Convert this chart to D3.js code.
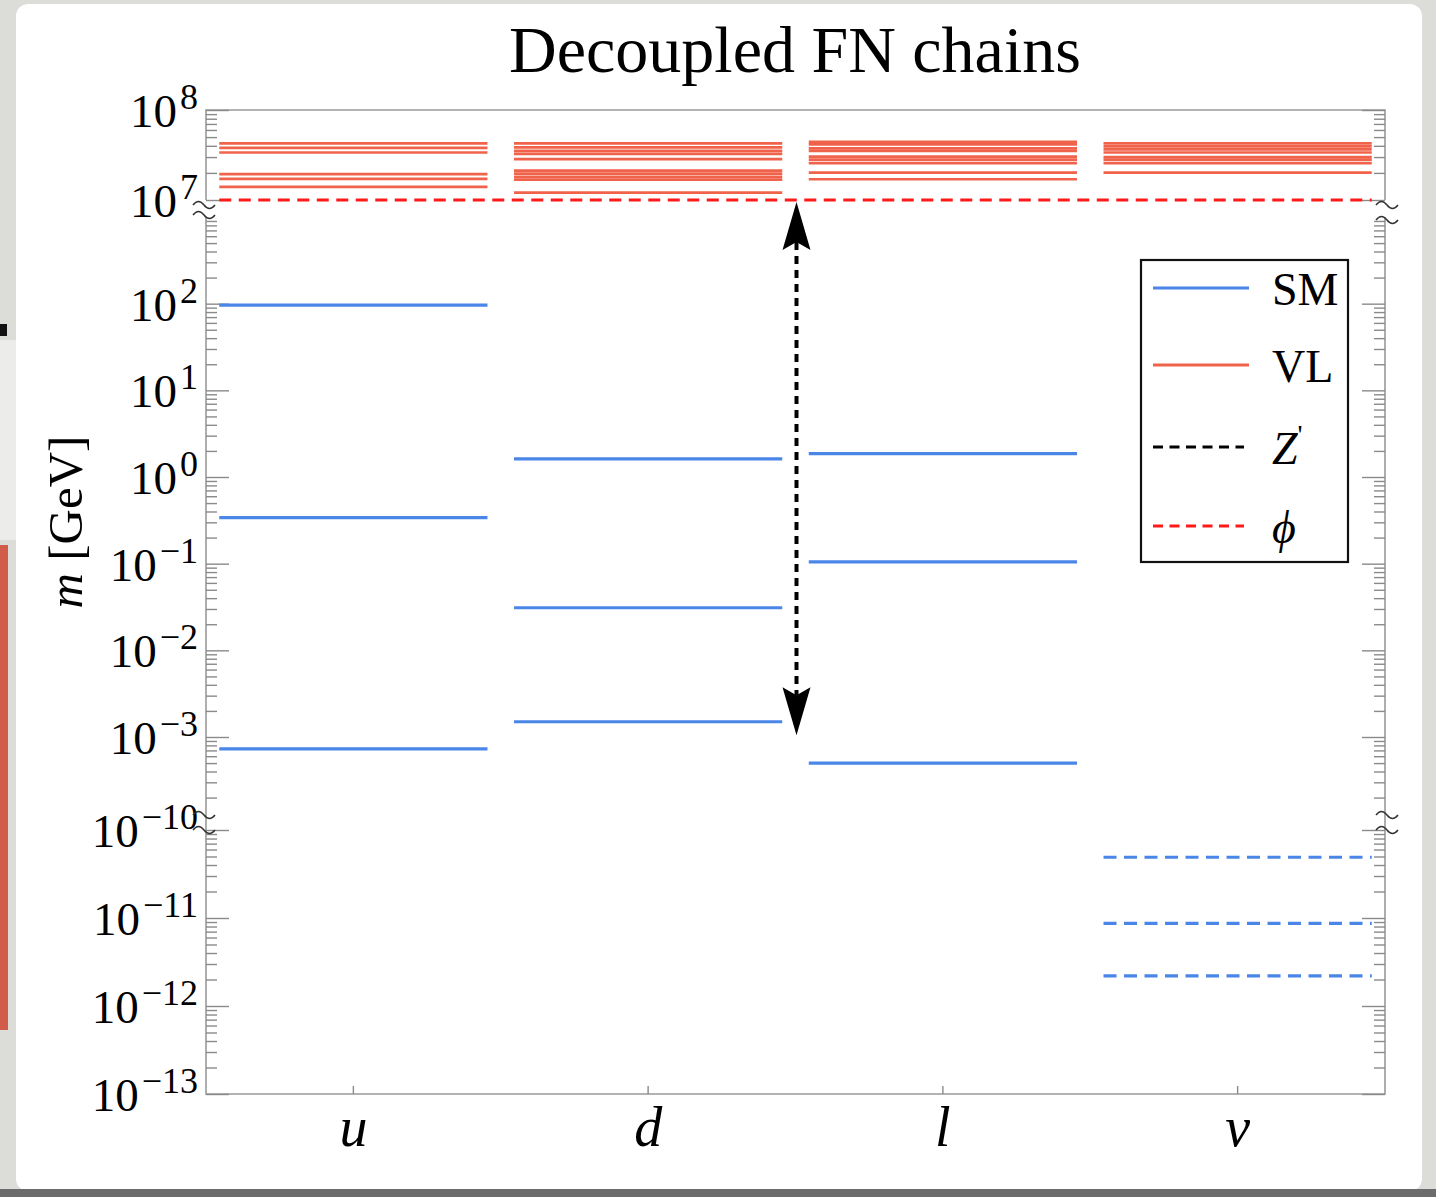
<!DOCTYPE html>
<html>
<head>
<meta charset="utf-8">
<script src="https://cdn.jsdelivr.net/npm/d3@7"></script>
<style>
  body { margin: 0; background: #dcdcd8; }
  svg { display: block; }
</style>
</head>
<body>
<svg id="chart" width="1436" height="1197"></svg>
<script>
  // categories on the x axis
  var categories = ["u", "d", "l", "ν"];

  // SM fermion masses [GeV]
  var smU = [96, 0.34, 7.3e-4];
  var smD = [1.62, 0.031, 1.5e-3];
  var smL = [1.86, 0.105, 5.0e-4];
  var smNu = [4.9e-11, 8.7e-12, 2.2e-12];

  // vector-like fermion masses [GeV]
  var vlU = [4.26e7, 3.79e7, 3.37e7, 1.94e7, 1.72e7, 1.40e7];
  var vlD = [4.26e7, 3.84e7, 3.51e7, 3.25e7, 2.85e7, 2.12e7, 1.96e7, 1.81e7, 1.68e7, 1.21e7];
  var vlL = [4.43e7, 4.15e7, 3.74e7, 3.51e7, 3.04e7, 2.81e7, 2.57e7, 2.01e7, 1.70e7];
  var vlNu = [4.26e7, 3.94e7, 3.65e7, 3.37e7, 3.0e7, 2.81e7, 2.57e7, 2.01e7];

  var phiMass = 1e7;
  var zPrimeRange = [1e7, 1.05e-3];

  var topTicks = [1e7, 1e8];
  var midTicks = [1e2, 1e1, 1e0, 1e-1, 1e-2, 1e-3];
  var botTicks = [1e-10, 1e-11, 1e-12, 1e-13];

  var colors = {sm: "#4a86e8", vl: "#f0624a", phi: "#ff1a1a", zp: "#000"};
  var serif = "'Liberation Serif', 'DejaVu Serif', serif";

  var svg = d3.select("#chart");

  // ---- background decoration (photo of the page)
  svg.append("rect").attr("width", 1436).attr("height", 1197).attr("fill", "#dcdcd8");
  svg.append("rect").attr("x", 0).attr("y", 340).attr("width", 18).attr("height", 200).attr("fill", "#ececea");
  svg.append("rect").attr("x", 0).attr("y", 324).attr("width", 7).attr("height", 12).attr("fill", "#111");
  svg.append("rect").attr("x", 0).attr("y", 545).attr("width", 8).attr("height", 485).attr("fill", "#d25c4a");
  svg.append("rect").attr("x", 16).attr("y", 4).attr("width", 1406).attr("height", 1187)
    .attr("rx", 12).attr("fill", "#fff");
  svg.append("rect").attr("x", 0).attr("y", 1189).attr("width", 1436).attr("height", 8).attr("fill", "#6b6b6b");

  // ---- scales (broken log axis, three panels)
  var left = 206, right = 1385;
  var x = d3.scaleBand().domain(categories).range([left, right]);
  var yTop = d3.scaleLog().domain([1e7, 1e8]).range([200, 110]);
  var yMid = d3.scaleLog().domain([Math.pow(10, -3.9), 1e3]).range([815, 217]);
  var yBot = d3.scaleLog().domain([1e-13, 1e-10]).range([1094, 830]);

  function yOf(v) {
    if (v >= 1e7) return yTop(v);
    if (v >= 1e-4) return yMid(v);
    return yBot(v);
  }

  function minorTicks(scale) {
    var dom = scale.domain();
    var lo = Math.min(dom[0], dom[1]), hi = Math.max(dom[0], dom[1]);
    var out = [];
    for (var k = Math.floor(Math.log10(lo)); k <= Math.ceil(Math.log10(hi)); k++) {
      for (var m = 2; m <= 9; m++) {
        var v = m * Math.pow(10, k);
        if (v > lo && v < hi) out.push(v);
      }
    }
    return out;
  }

  // ---- frame
  var frame = svg.append("g").attr("stroke", "#9a9a9a").attr("stroke-width", 1.6).attr("fill", "none");
  frame.append("path").attr("d", "M" + left + ",200V110H" + right + "V200");
  frame.append("path").attr("d", "M" + left + ",217V1094H" + right + "V217");

  // ---- ticks via d3 axes
  var panels = [
    {scale: yTop, majors: topTicks},
    {scale: yMid, majors: midTicks},
    {scale: yBot, majors: botTicks}
  ];
  panels.forEach(function(p) {
    [[d3.axisLeft, left], [d3.axisRight, right]].forEach(function(a) {
      var gMaj = svg.append("g").attr("transform", "translate(" + a[1] + ",0)")
        .call(a[0](p.scale).tickValues(p.majors).tickSize(-23).tickFormat(""));
      var gMin = svg.append("g").attr("transform", "translate(" + a[1] + ",0)")
        .call(a[0](p.scale).tickValues(minorTicks(p.scale)).tickSize(-11).tickFormat(""));
      [gMaj, gMin].forEach(function(g) {
        g.select(".domain").remove();
        g.selectAll(".tick line").attr("stroke", "#8a8a8a").attr("stroke-width", 1.4);
      });
    });
  });

  // bottom category ticks
  var xAxis = svg.append("g").attr("transform", "translate(0,1094)")
    .call(d3.axisBottom(x).tickSize(-8).tickFormat(""));
  xAxis.select(".domain").remove();
  xAxis.selectAll(".tick line").attr("stroke", "#8a8a8a").attr("stroke-width", 1.4);

  // y tick labels with superscripts
  var labels = [];
  panels.forEach(function(p) {
    p.majors.forEach(function(v) { labels.push({v: v, y: p.scale(v)}); });
  });
  var lab = svg.append("g").attr("font-family", serif).attr("fill", "#000").attr("text-anchor", "end");
  labels.forEach(function(d) {
    var exp = Math.round(Math.log10(d.v));
    var t = lab.append("text").attr("x", 198).attr("y", d.y + 17).attr("font-size", 47);
    t.append("tspan").text("10");
    t.append("tspan").attr("font-size", 36).attr("dx", 3).attr("dy", -18)
      .text(exp < 0 ? "\u2212" + (-exp) : String(exp));
  });

  // axis-break marks
  function tilde(cx, cy) {
    return "M" + (cx - 11) + "," + cy + "q5.5,-7 11,0t11,0";
  }
  var breaks = svg.append("g").attr("stroke", "#333").attr("stroke-width", 1.5).attr("fill", "none");
  [[left - 2, 205], [left - 2, 215], [left - 2, 815], [left - 2, 830],
   [right + 2, 205], [right + 2, 220], [right + 2, 815], [right + 2, 830]].forEach(function(b) {
    breaks.append("path").attr("d", tilde(b[0], b[1]));
  });

  // ---- level lines
  var half = x.bandwidth() * 0.455;
  function levels(cat, values, color, width, dash) {
    var cx = x(cat) + x.bandwidth() / 2;
    svg.append("g").selectAll("line").data(values).enter().append("line")
      .attr("x1", cx - half).attr("x2", cx + half)
      .attr("y1", function(d) { return yOf(d); })
      .attr("y2", function(d) { return yOf(d); })
      .attr("stroke", color).attr("stroke-width", width)
      .attr("stroke-dasharray", dash || null);
  }
  levels("u", vlU, colors.vl, 2.7);
  levels("d", vlD, colors.vl, 2.7);
  levels("l", vlL, colors.vl, 2.7);
  levels("ν", vlNu, colors.vl, 2.7);
  levels("u", smU, colors.sm, 3.2);
  levels("d", smD, colors.sm, 3.2);
  levels("l", smL, colors.sm, 3.2);
  levels("ν", smNu, colors.sm, 3.2, "13,7.5");

  // phi line across all columns
  svg.append("line")
    .attr("x1", x("u") + x.bandwidth() / 2 - half)
    .attr("x2", x("ν") + x.bandwidth() / 2 + half)
    .attr("y1", yOf(phiMass)).attr("y2", yOf(phiMass))
    .attr("stroke", colors.phi).attr("stroke-width", 3.2).attr("stroke-dasharray", "12,7.5");

  // Z' double arrow between d and l columns
  var ax = x("l") + 1;
  var yA = yOf(zPrimeRange[0]) + 2, yB = yOf(zPrimeRange[1]);
  svg.append("line").attr("x1", ax).attr("x2", ax).attr("y1", yA + 40).attr("y2", yB - 40)
    .attr("stroke", colors.zp).attr("stroke-width", 4).attr("stroke-dasharray", "8,6");
  function head(tipY, dir) {
    return "M" + ax + "," + tipY +
      "L" + (ax + 14) + "," + (tipY + dir * 48) +
      "L" + ax + "," + (tipY + dir * 40) +
      "L" + (ax - 14) + "," + (tipY + dir * 48) + "Z";
  }
  svg.append("path").attr("d", head(yA, 1)).attr("fill", "#000");
  svg.append("path").attr("d", head(yB, -1)).attr("fill", "#000");

  // ---- title and axis labels
  svg.append("text").attr("x", 795).attr("y", 72).attr("text-anchor", "middle")
    .attr("font-family", serif).attr("font-size", 66).text("Decoupled FN chains");

  var yl = svg.append("text").attr("transform", "translate(82,522) rotate(-90)")
    .attr("text-anchor", "middle").attr("font-family", serif).attr("font-size", 49);
  yl.append("tspan").attr("font-style", "italic").text("m");
  yl.append("tspan").text(" [GeV]");

  svg.append("g").selectAll("text").data(categories).enter().append("text")
    .attr("x", function(d) { return x(d) + x.bandwidth() / 2; })
    .attr("y", 1146).attr("text-anchor", "middle")
    .attr("font-family", serif).attr("font-style", "italic").attr("font-size", 56)
    .text(function(d) { return d; });

  // ---- legend
  var legendItems = [
    {name: "SM", color: colors.sm, dash: null, y: 288},
    {name: "VL", color: colors.vl, dash: null, y: 365},
    {name: "Z'", color: colors.zp, dash: "10,6.5", y: 447},
    {name: "φ", color: colors.phi, dash: "10,6.5", y: 526}
  ];
  var lg = svg.append("g");
  lg.append("rect").attr("x", 1141).attr("y", 260).attr("width", 207).attr("height", 302)
    .attr("fill", "#fff").attr("stroke", "#111").attr("stroke-width", 2.2);
  legendItems.forEach(function(it) {
    lg.append("line").attr("x1", 1153).attr("x2", it.dash ? 1244 : 1249)
      .attr("y1", it.y).attr("y2", it.y)
      .attr("stroke", it.color).attr("stroke-width", 3).attr("stroke-dasharray", it.dash);
    var t = lg.append("text").attr("x", 1272).attr("y", it.y + 17)
      .attr("font-family", serif).attr("font-size", 46);
    if (it.name === "Z'") {
      t.append("tspan").attr("font-style", "italic").text("Z");
      t.append("tspan").attr("font-size", 28).attr("dy", -20).text("'");
    } else if (it.name === "φ") {
      t.append("tspan").attr("font-style", "italic").text("ϕ");
    } else {
      t.text(it.name);
    }
  });
</script>
</body>
</html>
